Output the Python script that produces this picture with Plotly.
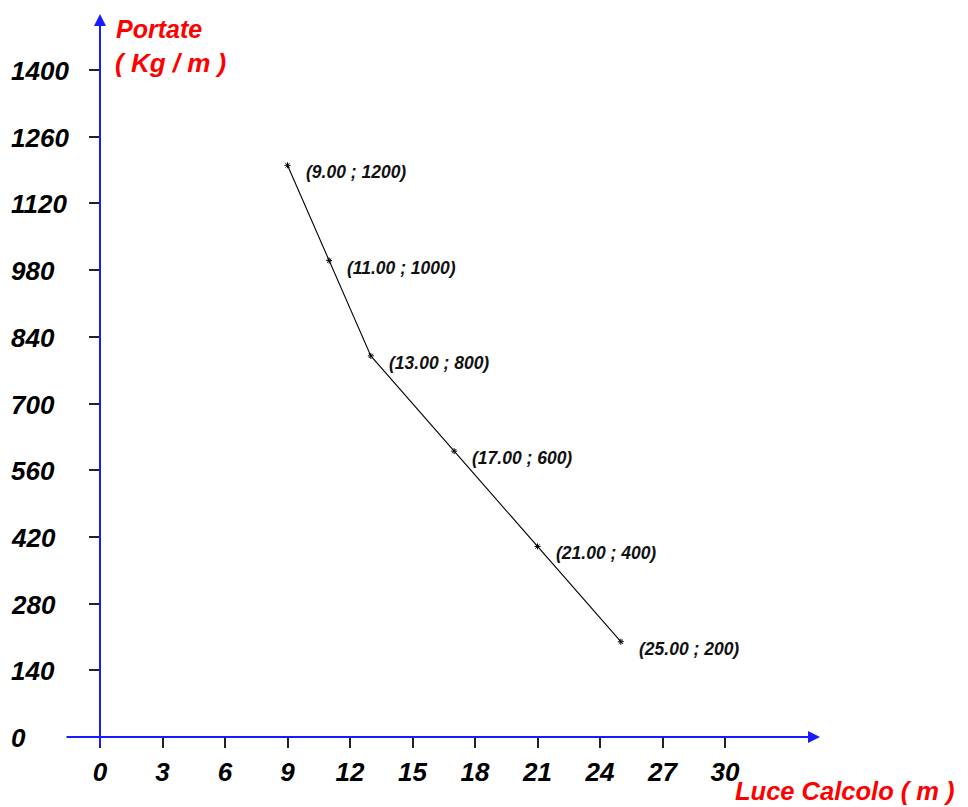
import plotly.graph_objects as go

# Data
luce = [9, 11, 13, 17, 21, 25]
portate = [1200, 1000, 800, 600, 400, 200]
point_labels = ["(9.00 ; 1200)", "(11.00 ; 1000)", "(13.00 ; 800)",
                "(17.00 ; 600)", "(21.00 ; 400)", "(25.00 ; 200)"]
x_ticks = [0, 3, 6, 9, 12, 15, 18, 21, 24, 27, 30]
y_ticks = [0, 140, 280, 420, 560, 700, 840, 980, 1120, 1260, 1400]

OFF = 8  # page body margin
W, H = 968 - OFF, 807 - OFF
L = 65 - OFF
T = 14 - OFF
PB = 737 - OFF          # plot bottom in figure px
PR = 820 - OFF          # plot right in figure px
R = W - PR
B = H - PB
PW = PR - L
PH = PB - T

FONT = "Liberation Sans"
tickfont = dict(family=FONT, size=26, color="black", weight="bold", style="italic")
redfont = dict(family=FONT, size=25, color="#ff0000", weight="bold", style="italic")


def px(xr):
    return (xr - OFF - L) / PW


def py(yr):
    return (737 - yr) / PH


fig = go.Figure()
fig.add_trace(go.Scatter(
    x=luce, y=portate, mode="lines+markers",
    line=dict(color="black", width=1.1),
    marker=dict(symbol="asterisk-open", size=5, line=dict(color="#6b5a4a", width=1)),
    hoverinfo="skip", showlegend=False,
))

annotations = []
for xv, yv, t in zip(luce, portate, point_labels):
    annotations.append(dict(
        x=xv, y=yv, xref="x", yref="y", text=t, showarrow=False,
        xanchor="left", yanchor="middle", xshift=16, yshift=-7,
        font=dict(family=FONT, size=17.5, color="#111111", weight="bold", style="italic"),
    ))

# y tick labels (left aligned)
for v in y_ticks:
    annotations.append(dict(
        x=px(9), y=v, xref="paper", yref="y", text=str(v), showarrow=False,
        xanchor="left", yanchor="middle", yshift=-1, font=tickfont,
    ))

# axis arrows
annotations.append(dict(x=1.0, y=0, xref="paper", yref="y", ax=-PW, ay=0,
                        axref="pixel", ayref="pixel", text="", showarrow=True,
                        arrowhead=2, arrowsize=1.2, arrowwidth=2, arrowcolor="#1a1aff",
                        standoff=0, startstandoff=0))
annotations.append(dict(x=0, y=1.0, xref="x", yref="paper", ax=0, ay=PH + 11,
                        axref="pixel", ayref="pixel", text="", showarrow=True,
                        arrowhead=2, arrowsize=1.2, arrowwidth=2, arrowcolor="#1a1aff",
                        standoff=0, startstandoff=0))

# axis titles
annotations.append(dict(x=px(114), y=py(29), xref="paper", yref="paper",
                        text="Portate", showarrow=False, xanchor="left", yanchor="middle",
                        font=redfont))
annotations.append(dict(x=px(113), y=py(63), xref="paper", yref="paper",
                        text="( Kg / m )", showarrow=False, xanchor="left", yanchor="middle",
                        font=dict(redfont, size=26)))
annotations.append(dict(x=px(733), y=py(791), xref="paper", yref="paper",
                        text="Luce Calcolo ( m )", showarrow=False, xanchor="left",
                        yanchor="middle", font=dict(redfont, size=25.5)))

xppu = 625 / 30.0
x0 = -(100 - 65) / xppu
x1 = x0 + PW / xppu
yppu = 667 / 1400.0
y1 = PH / yppu

fig.update_layout(
    width=W, height=H,
    margin=dict(l=L, r=R, t=T, b=B, pad=0),
    paper_bgcolor="white", plot_bgcolor="white",
    annotations=annotations,
    xaxis=dict(range=[x0, x1], tickvals=x_ticks, ticktext=[str(v) for v in x_ticks],
               showgrid=False, zeroline=False, showline=False,
               ticks="outside", ticklen=10, tickwidth=2, tickcolor="#222222",
               tickfont=tickfont, ticklabelstandoff=2),
    yaxis=dict(range=[0, y1], tickvals=y_ticks, showticklabels=False,
               showgrid=False, zeroline=False, showline=False,
               anchor="free", position=(100 - 65) / PW,
               ticks="outside", ticklen=11, tickwidth=2, tickcolor="#222222"),
)

fig.write_html("out.html")
